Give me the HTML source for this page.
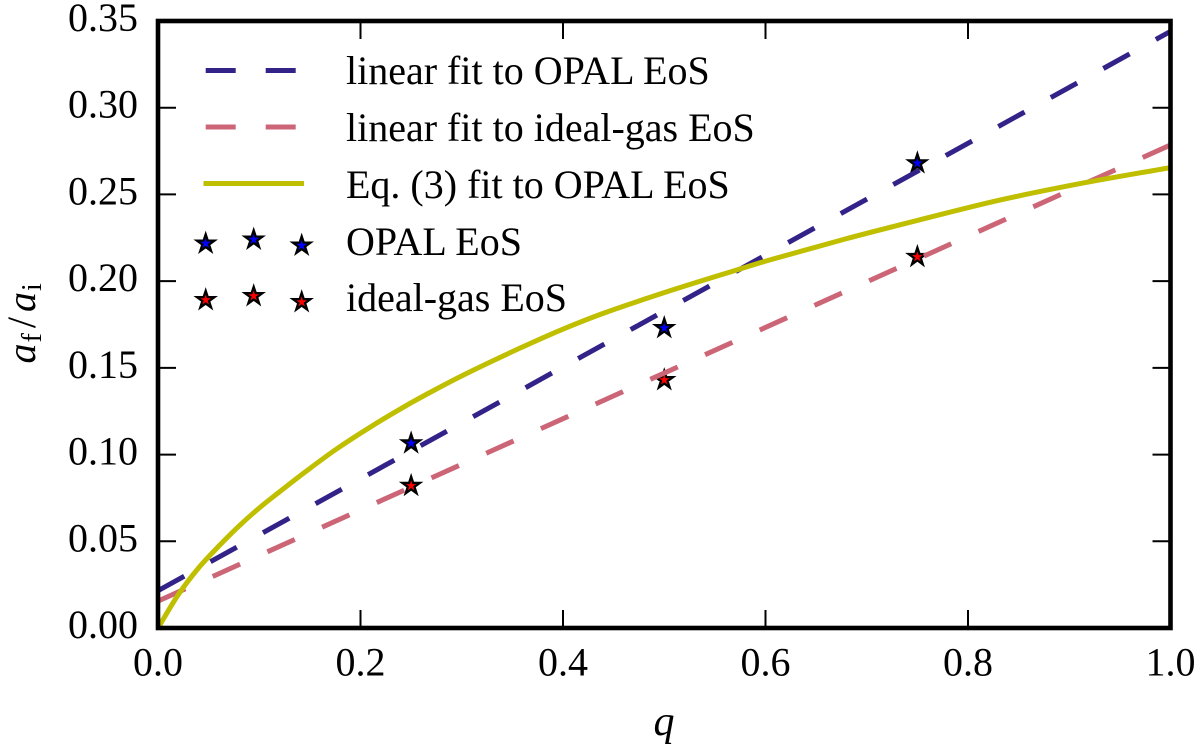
<!DOCTYPE html>
<html lang="en">
<head>
<meta charset="utf-8">
<title>Final separation ratio versus mass ratio</title>
<style>
html,body{margin:0;padding:0;background:#fff;}
svg{display:block;font-family:"Liberation Serif",serif;fill:#000;}
</style>
</head>
<body>
<svg id="chart" xmlns="http://www.w3.org/2000/svg" width="1200" height="750" viewBox="0 0 1200 750">
  <defs><clipPath id="plot-clip"><rect x="158" y="21" width="1012.5" height="607"/></clipPath></defs>
  <rect x="0" y="0" width="1200" height="750" fill="#fff"/>
  <g id="stars" clip-path="url(#plot-clip)"></g>
  <g id="lines" clip-path="url(#plot-clip)"></g>
  <g id="ticks"></g>
  <rect x="158" y="21" width="1012.5" height="607" fill="none" stroke="#000" stroke-width="4.6"/>
  <g id="tick-labels" font-size="40"></g>
  <text x="664" y="735" font-size="42" font-style="italic" text-anchor="middle">q</text>
  <g transform="translate(35,363.5) rotate(-90)">
    <text x="0" y="0" font-size="40" font-style="italic">a<tspan font-size="28" font-style="normal" dy="6" dx="1">f</tspan><tspan dy="-6" dx="5" font-style="normal">/</tspan><tspan dx="5">a</tspan><tspan font-size="28" font-style="normal" dy="6" dx="1">i</tspan></text>
  </g>
  <g id="legend">
    <g>
      <line x1="205.7" y1="70.5" x2="301" y2="70.5" stroke="#332288" stroke-width="5" stroke-dasharray="30 30"/>
      <text x="346" y="84" font-size="40">linear fit to OPAL EoS</text>
    </g>
    <g>
      <line x1="205.7" y1="127" x2="301" y2="127" stroke="#cc6677" stroke-width="5" stroke-dasharray="30 30"/>
      <text x="346" y="141" font-size="40">linear fit to ideal-gas EoS</text>
    </g>
    <g>
      <line x1="203.5" y1="183.5" x2="304" y2="183.5" stroke="#bfbf00" stroke-width="5"/>
      <text x="346" y="198" font-size="40">Eq. (3) fit to OPAL EoS</text>
    </g>
    <g id="legend-opal">
      <text x="346" y="255" font-size="40">OPAL EoS</text>
    </g>
    <g id="legend-ideal">
      <text x="346" y="311" font-size="40">ideal-gas EoS</text>
    </g>
  </g>
</svg>
<script>
const xTicks = ["0.0", "0.2", "0.4", "0.6", "0.8", "1.0"];
const yTicks = ["0.00", "0.05", "0.10", "0.15", "0.20", "0.25", "0.30", "0.35"];
const lineQ = [0, 1];
const opalFit = [0.0215, 0.344];
const idealFit = [0.0155, 0.2785];
const curveQ = [0, 0.02, 0.04, 0.06, 0.08, 0.1, 0.12, 0.145, 0.177, 0.21, 0.242, 0.275, 0.308, 0.358, 0.397, 0.44, 0.506, 0.572, 0.604, 0.68, 0.75, 0.832, 0.914, 1];
const curveFit = [0, 0.0192, 0.0346, 0.0472, 0.0588, 0.0692, 0.0785, 0.0898, 0.1035, 0.116, 0.1272, 0.1378, 0.1477, 0.1615, 0.1716, 0.1815, 0.1945, 0.2065, 0.2122, 0.2245, 0.235, 0.2468, 0.2566, 0.2655];
const pointQ = [0.25, 0.5, 0.75];
const opalPoints = [0.1065, 0.173, 0.268];
const idealPoints = [0.082, 0.143, 0.214];

const NS = 'http://www.w3.org/2000/svg';
const xScale = function (q) { return 158 + q * 1012.5; };
const yScale = function (v) { return 628 - (v / 0.35) * 607; };

function make(tag, attrs, parent) {
  const el = document.createElementNS(NS, tag);
  Object.keys(attrs).forEach(function (k) { el.setAttribute(k, attrs[k]); });
  parent.appendChild(el);
  return el;
}

function starPoints(cx, cy, r) {
  const pts = [];
  for (let i = 0; i < 10; i++) {
    const rad = i % 2 === 0 ? r : r * 0.381966;
    const ang = -Math.PI / 2 + i * Math.PI / 5;
    pts.push((cx + rad * Math.cos(ang)).toFixed(2) + ',' + (cy + rad * Math.sin(ang)).toFixed(2));
  }
  return pts.join(' ');
}

function drawStar(cx, cy, color, parent) {
  const star = make('polygon', { points: starPoints(cx, cy, 9.2), fill: color, stroke: '#000', 'stroke-width': 2.3, 'stroke-miterlimit': 10 }, parent);
  return star;
}

const tickG = document.getElementById('ticks');
const labelG = document.getElementById('tick-labels');
xTicks.forEach(function (t) {
  const x = xScale(parseFloat(t));
  const b = make('line', { x1: x, x2: x, y1: 628, y2: 610, stroke: '#000', 'stroke-width': 2 }, tickG);
  
  
  const u = make('line', { x1: x, x2: x, y1: 21, y2: 39, stroke: '#000', 'stroke-width': 2 }, tickG);
  
  
  const l = make('text', { x: x, y: 675.5, 'text-anchor': 'middle' }, labelG);
  l.textContent = t;
  
  
});
yTicks.forEach(function (t) {
  const y = yScale(parseFloat(t));
  const a = make('line', { x1: 158, x2: 176, y1: y, y2: y, stroke: '#000', 'stroke-width': 2 }, tickG);
  
  
  const c = make('line', { x1: 1170.5, x2: 1152.5, y1: y, y2: y, stroke: '#000', 'stroke-width': 2 }, tickG);
  
  
  const l = make('text', { x: 138, y: y + 10, 'text-anchor': 'end' }, labelG);
  l.textContent = t;
  
  
});

const starG = document.getElementById('stars');
pointQ.forEach(function (q, i) {
  const s1 = drawStar(xScale(q), yScale(opalPoints[i]), '#0000ff', starG);
  
  
  const s2 = drawStar(xScale(q), yScale(idealPoints[i]), '#ff0000', starG);
  
  
});

function linePath(qs, vs) {
  return qs.map(function (q, i) {
    return (i ? 'L' : 'M') + xScale(q).toFixed(2) + ' ' + yScale(vs[i]).toFixed(2);
  }).join(' ');
}

function smoothPath(qs, vs) {
  const p = qs.map(function (q, i) { return [xScale(q), yScale(vs[i])]; });
  const n = p.length;
  const m = p.map(function (pt, i) {
    const a = p[Math.max(i - 1, 0)], b = p[Math.min(i + 1, n - 1)];
    return (b[1] - a[1]) / (b[0] - a[0]);
  });
  let d = 'M' + p[0][0].toFixed(2) + ' ' + p[0][1].toFixed(2);
  for (let i = 0; i < n - 1; i++) {
    const h = (p[i + 1][0] - p[i][0]) / 3;
    d += ' C' + (p[i][0] + h).toFixed(2) + ' ' + (p[i][1] + m[i] * h).toFixed(2) + ' ' +
      (p[i + 1][0] - h).toFixed(2) + ' ' + (p[i + 1][1] - m[i + 1] * h).toFixed(2) + ' ' +
      p[i + 1][0].toFixed(2) + ' ' + p[i + 1][1].toFixed(2);
  }
  return d;
}

const lineG = document.getElementById('lines');
const opalLine = make('path', { d: linePath(lineQ, opalFit), fill: 'none', stroke: '#332288', 'stroke-width': 5, 'stroke-dasharray': '30 30' }, lineG);


const idealLine = make('path', { d: linePath(lineQ, idealFit), fill: 'none', stroke: '#cc6677', 'stroke-width': 5, 'stroke-dasharray': '30 30' }, lineG);


const curveLine = make('path', { d: smoothPath(curveQ, curveFit), fill: 'none', stroke: '#bfbf00', 'stroke-width': 5 }, lineG);



const legendOpal = document.getElementById('legend-opal');
const legendIdeal = document.getElementById('legend-ideal');
const ls1 = drawStar(205.7, 243.5, '#0000ff', legendOpal);


const ls2 = drawStar(253.7, 239.5, '#0000ff', legendOpal);


const ls3 = drawStar(301.7, 245.5, '#0000ff', legendOpal);


const ls4 = drawStar(205.7, 300, '#ff0000', legendIdeal);


const ls5 = drawStar(253.7, 296, '#ff0000', legendIdeal);


const ls6 = drawStar(301.7, 302, '#ff0000', legendIdeal);


</script>
</body>
</html>
